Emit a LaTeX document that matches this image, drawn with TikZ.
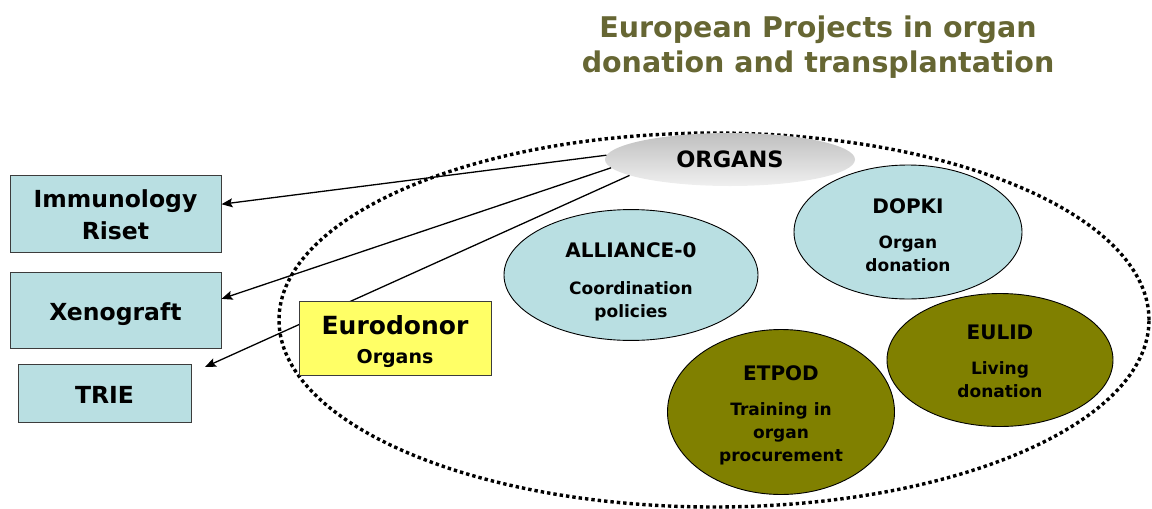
\documentclass[tikz,border=0pt]{standalone}
\usepackage{fontspec}
\setmainfont{DejaVu Sans}
\usetikzlibrary{shapes.geometric,arrows.meta}
\definecolor{boxcyan}{RGB}{185,223,226}
\definecolor{eyellow}{RGB}{255,255,102}
\definecolor{olivefill}{RGB}{128,128,0}
\definecolor{titleolive}{RGB}{102,102,51}
\definecolor{boxborder}{RGB}{60,60,60}
\begin{document}
\begin{tikzpicture}[x=1pt,y=-1pt,
  projbox/.style={draw=boxborder, line width=1pt, fill=boxcyan, rectangle, inner sep=0pt, align=center, font=\bfseries\fontsize{23.5}{32}\selectfont},
  proj/.style={draw=black, line width=0.9pt, ellipse, inner sep=0pt, align=center, font=\bfseries\fontsize{17}{23}\selectfont},
  link/.style={line width=1.3pt, -{Stealth[length=11pt,width=9pt,inset=2pt]}},
  dots/.style={line width=3.4pt, dash pattern=on 3.4pt off 3pt},
]
\useasboundingbox (0,0) rectangle (1152,509);
% title
\node[font=\bfseries\fontsize{28.5}{35}\selectfont, text=titleolive, align=center] (title) at (818,47) {European Projects in organ\\donation and transplantation};
% big dotted ellipse
\draw[dots] (714,320) ellipse [x radius=435pt, y radius=187pt];
% left boxes
\node[projbox, minimum width=211pt, minimum height=77pt] (immuno) at (115.5,213.5) {\rule{0pt}{21pt}Immunology\\Riset};
\node[projbox, minimum width=211pt, minimum height=76pt] (xeno) at (115.5,310) {\rule{0pt}{27pt}Xenograft};
\node[projbox, minimum width=173pt, minimum height=58pt] (trie) at (104.5,393) {\rule{0pt}{20pt}TRIE};
% organs
\node[ellipse, inner sep=0pt, minimum width=250pt, minimum height=53pt, top color=gray!50, bottom color=gray!12, font=\bfseries\fontsize{22.5}{26}\selectfont] (organs) at (730,159.5) {ORGANS};
\coordinate (trieend) at (205,367);
% connectors
\draw[link] (organs.178) -- (immuno.5);
\draw[link] (organs.184) -- (xeno.6);
\draw[link] (organs.189) -- (trieend);
% eurodonor
\node[draw=boxborder, line width=1pt, fill=eyellow, rectangle, inner sep=0pt, align=center, minimum width=192pt, minimum height=74pt, font=\bfseries\fontsize{19}{24}\selectfont] (euro) at (395,338) {{\fontsize{25}{28}\selectfont\rule{0pt}{26pt}Eurodonor}\\[5pt]Organs};
% project ellipses
\node[proj, fill=boxcyan, minimum width=254pt, minimum height=126pt] (alliance) at (631,275) {{\fontsize{20}{23}\selectfont\rule{0pt}{29pt}ALLIANCE-0}\\[14pt]Coordination\\policies};
\node[proj, fill=boxcyan, minimum width=228pt, minimum height=134pt] (dopki) at (908,232) {{\fontsize{20}{23}\selectfont\rule{0pt}{22pt}DOPKI}\\[12pt]Organ\\donation};
\node[proj, fill=olivefill, minimum width=227pt, minimum height=165pt] (etpod) at (781,412) {{\fontsize{20}{23}\selectfont\rule{0pt}{22pt}ETPOD}\\[12pt]Training in\\organ\\procurement};
\node[proj, fill=olivefill, minimum width=226pt, minimum height=133pt] (eulid) at (1000,360) {{\fontsize{20}{23}\selectfont\rule{0pt}{17pt}EULID}\\[12pt]Living\\donation};
\end{tikzpicture}
\end{document}
